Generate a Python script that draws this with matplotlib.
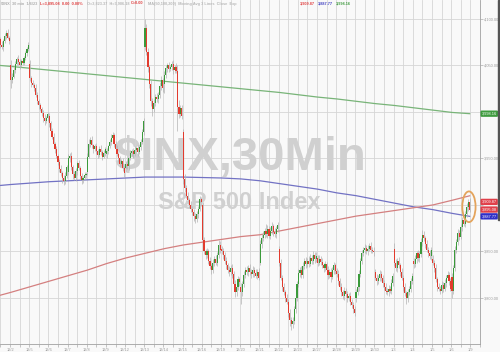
import numpy as np
import matplotlib.pyplot as plt
from matplotlib.patches import Ellipse, Rectangle

# --- data: S&P 500, 30 min bars, 12/1/2022 - 1/6/2023 ---
sessions = ['12/1', '12/2', '12/5', '12/6', '12/7', '12/8', '12/9', '12/12', '12/13',
            '12/14', '12/15', '12/16', '12/19', '12/20', '12/21', '12/22', '12/23',
            '12/27', '12/28', '12/29', '12/30', '1/3', '1/4', '1/5', '1/6']
# axis labels sit on the boundary before the next session
tick_labels = sessions[1:] + ['1/9']
first_bar = 6  # first visible bar of 12/1

day_open = [4078, 4050, 4052, 3996, 3935, 3935, 3955, 3940, 4070, 4030, 3978, 3900, 3853,
            3812, 3838, 3853, 3815, 3843, 3829, 3800, 3828, 3853, 3840, 3842, 3823]

closes = [
    [4072, 4070, 4076, 4082, 4085, 4080, 4076],
    [4034, 4038, 4045, 4052, 4057, 4054, 4050, 4055, 4053, 4058, 4063, 4068, 4072],
    [4036, 4031, 4029, 4026, 4018, 4012, 4007, 4003, 3999, 3994, 3990, 3993, 3998],
    [3988, 3980, 3973, 3966, 3960, 3953, 3946, 3939, 3934, 3929, 3926, 3931, 3941],
    [3950, 3953, 3941, 3933, 3929, 3936, 3945, 3940, 3931, 3927, 3929, 3932, 3933],
    [3952, 3966, 3970, 3964, 3960, 3963, 3958, 3954, 3960, 3957, 3952, 3956, 3960],
    [3958, 3963, 3968, 3972, 3975, 3966, 3960, 3955, 3950, 3944, 3947, 3940, 3934],
    [3944, 3942, 3950, 3956, 3958, 3955, 3959, 3961, 3957, 3962, 3968, 3978, 3990],
    [4090, 4065, 4048, 4030, 4012, 4003, 4010, 4016, 4014, 4018, 4028, 4034, 4026],
    [4040, 4047, 4050, 4046, 4048, 4052, 4045, 4048, 4044, 4005, 3998, 4004, 3996],
    [3928, 3918, 3910, 3905, 3900, 3896, 3892, 3888, 3885, 3890, 3896, 3906, 3903],
    [3862, 3850, 3846, 3850, 3840, 3834, 3830, 3838, 3842, 3838, 3846, 3857, 3852],
    [3850, 3846, 3840, 3835, 3830, 3828, 3832, 3826, 3815, 3806, 3812, 3820, 3817],
    [3806, 3815, 3825, 3830, 3828, 3832, 3828, 3826, 3830, 3827, 3824, 3828, 3822],
    [3858, 3864, 3868, 3872, 3869, 3874, 3867, 3872, 3877, 3871, 3869, 3874, 3878],
    [3838, 3822, 3812, 3806, 3800, 3796, 3784, 3776, 3772, 3775, 3788, 3800, 3815],
    [3827, 3830, 3825, 3834, 3840, 3836, 3840, 3837, 3843, 3840, 3846, 3842, 3845],
    [3838, 3842, 3839, 3835, 3832, 3836, 3830, 3825, 3828, 3823, 3830, 3835, 3829],
    [3826, 3818, 3812, 3806, 3802, 3808, 3804, 3800, 3802, 3796, 3792, 3788, 3784],
    [3806, 3812, 3826, 3840, 3848, 3852, 3854, 3850, 3853, 3856, 3852, 3851, 3849],
    [3822, 3818, 3822, 3826, 3821, 3816, 3812, 3808, 3806, 3810, 3808, 3816, 3824],
    [3838, 3832, 3840, 3835, 3828, 3822, 3812, 3805, 3800, 3806, 3810, 3818, 3824],
    [3836, 3842, 3848, 3843, 3847, 3860, 3868, 3864, 3858, 3852, 3848, 3845, 3852],
    [3838, 3832, 3820, 3812, 3810, 3808, 3814, 3810, 3816, 3822, 3825, 3818, 3810],
    [3808, 3832, 3852, 3860, 3870, 3866, 3876, 3884, 3880, 3890, 3898, 3903, 3895.08],
]

# wick length above / below the candle body (index points)
wick_up = [
    [3, 4, 2, 3, 3, 4, 2],
    [6, 4, 3, 3, 2, 4, 3, 2, 3, 2, 3, 2, 3],
    [4, 3, 3, 2, 4, 3, 2, 3, 2, 3, 4, 3, 2],
    [3, 2, 3, 4, 2, 3, 2, 3, 4, 2, 3, 4, 2],
    [5, 3, 4, 2, 3, 4, 2, 3, 2, 3, 2, 3, 2],
    [4, 5, 3, 4, 2, 3, 4, 2, 3, 4, 2, 3, 2],
    [3, 2, 3, 4, 3, 2, 3, 4, 2, 3, 2, 3, 2],
    [3, 4, 2, 3, 2, 3, 4, 2, 3, 2, 3, 4, 3],
    [10, 5, 4, 3, 4, 3, 4, 3, 4, 3, 4, 5, 3],
    [4, 3, 3, 4, 3, 3, 4, 3, 5, 6, 8, 4, 3],
    [4, 5, 3, 4, 3, 4, 3, 4, 3, 4, 3, 4, 3],
    [3, 4, 3, 4, 3, 4, 3, 4, 3, 4, 3, 5, 4],
    [3, 4, 3, 4, 3, 4, 3, 4, 3, 4, 3, 4, 3],
    [4, 3, 4, 3, 4, 3, 4, 3, 4, 3, 4, 3, 4],
    [4, 5, 4, 3, 8, 4, 3, 4, 5, 3, 4, 3, 4],
    [3, 4, 3, 4, 3, 4, 3, 4, 3, 4, 3, 4, 3],
    [4, 3, 4, 5, 3, 4, 3, 5, 4, 3, 4, 3, 4],
    [3, 4, 3, 4, 3, 4, 3, 4, 3, 4, 3, 4, 3],
    [3, 4, 3, 4, 3, 4, 3, 4, 3, 4, 3, 4, 3],
    [4, 3, 4, 3, 4, 3, 4, 3, 4, 3, 4, 3, 4],
    [3, 4, 3, 4, 3, 4, 3, 4, 3, 4, 3, 4, 3],
    [6, 4, 3, 4, 3, 4, 3, 4, 3, 4, 3, 4, 3],
    [3, 4, 3, 4, 3, 4, 5, 4, 3, 4, 3, 4, 3],
    [4, 3, 4, 3, 4, 3, 4, 3, 4, 3, 4, 3, 4],
    [4, 3, 4, 3, 4, 3, 4, 3, 4, 3, 4, 3, 4],
]
wick_dn = [
    [3, 2, 4, 2, 3, 2, 3],
    [8, 3, 2, 3, 2, 3, 4, 2, 3, 2, 2, 3, 2],
    [3, 4, 2, 3, 2, 3, 4, 2, 3, 5, 4, 2, 3],
    [4, 3, 2, 3, 4, 2, 3, 4, 3, 5, 4, 3, 2],
    [3, 4, 3, 5, 2, 3, 4, 2, 3, 4, 3, 2, 3],
    [3, 2, 4, 3, 4, 2, 3, 4, 2, 3, 4, 2, 3],
    [4, 3, 2, 3, 2, 4, 3, 2, 4, 3, 2, 3, 4],
    [5, 3, 4, 2, 3, 4, 2, 3, 4, 2, 3, 2, 3],
    [3, 4, 5, 4, 6, 7, 3, 4, 3, 4, 3, 4, 5],
    [10, 3, 4, 3, 2, 3, 4, 3, 2, 25, 4, 3, 4],
    [5, 4, 3, 4, 3, 4, 3, 5, 4, 3, 4, 3, 4],
    [4, 3, 4, 3, 4, 3, 4, 3, 4, 3, 4, 3, 4],
    [3, 4, 3, 4, 3, 4, 3, 4, 3, 5, 4, 3, 4],
    [12, 4, 3, 4, 3, 4, 3, 4, 3, 4, 3, 4, 3],
    [3, 4, 3, 4, 3, 4, 3, 4, 3, 4, 3, 4, 3],
    [4, 3, 4, 3, 4, 3, 5, 6, 6, 4, 3, 4, 3],
    [3, 4, 3, 4, 3, 4, 3, 4, 3, 4, 3, 4, 3],
    [4, 3, 4, 3, 4, 3, 4, 5, 4, 6, 3, 4, 3],
    [3, 4, 3, 4, 3, 4, 3, 4, 3, 4, 3, 4, 3],
    [4, 3, 4, 3, 4, 3, 4, 3, 4, 3, 4, 3, 4],
    [3, 4, 3, 4, 3, 4, 3, 4, 3, 4, 3, 4, 3],
    [4, 3, 4, 3, 4, 3, 4, 3, 6, 4, 3, 4, 3],
    [4, 3, 4, 3, 4, 3, 4, 3, 4, 3, 4, 3, 4],
    [3, 4, 3, 4, 3, 4, 3, 4, 3, 4, 3, 4, 3],
    [8, 4, 3, 4, 3, 4, 3, 4, 3, 4, 3, 4, 3],
]

# moving averages at the first bar of each session + last bar
ma50 = [3803, 3806, 3812, 3818, 3824, 3830, 3837, 3843, 3848, 3853, 3857, 3860, 3863,
        3866, 3868, 3872, 3876, 3880, 3884, 3888, 3891, 3894, 3897, 3900, 3905, 3909.87]
ma100 = [3921, 3922, 3923.5, 3925, 3926, 3927, 3928, 3929, 3930, 3930, 3930, 3929.5, 3929,
         3928, 3926, 3923, 3920, 3917, 3913, 3910, 3906, 3902, 3898, 3895, 3891, 3887.77]
ma200 = [4050, 4049, 4047, 4045, 4043, 4041, 4039, 4037, 4035, 4033, 4031, 4029, 4027,
         4025, 4023, 4021, 4018.5, 4016, 4014, 4011.5, 4009, 4007, 4004.5, 4002, 3999.5, 3998.16]

y_ticks = [3800, 3850, 3900, 3950, 4000, 4050, 4100]
hidden_ticks = [3900, 4000]  # covered by the value tags on the right
BARS = 13

# --- build bars ---
idx, opens, highs, lows, cls = [], [], [], [], []
for d, day in enumerate(closes):
    start = first_bar if d == 0 else 0
    prev = day_open[d]
    for j, c in enumerate(day):
        o = prev
        idx.append(d * BARS + start + j)
        opens.append(o)
        cls.append(c)
        highs.append(max(o, c) + wick_up[d][j])
        lows.append(min(o, c) - wick_dn[d][j])
        prev = c
idx = np.array(idx)
opens = np.array(opens, dtype=float)
cls = np.array(cls, dtype=float)

ma_x = [d * BARS + (first_bar if d == 0 else 0) for d in range(len(sessions))] + [idx[-1]]

# --- figure ---
bg = '#f9f9f9'
fig = plt.figure(figsize=(5, 3.52), dpi=100, facecolor=bg)
ax = fig.add_axes([0, 8 / 352, 480 / 500, 344 / 352], facecolor=bg)
ax.set_xlim(5.73, 330.7)
ax.set_ylim(3750.5, 4120.4)

# grid
ax.set_yticks(y_ticks)
ax.set_yticklabels(['' if v in hidden_ticks else f'{v:,.2f}' for v in y_ticks])
ax.set_xticks([BARS * (i + 1) - 0.5 for i in range(len(tick_labels))])
ax.set_xticklabels(tick_labels)
ax.set_xticks([BARS * i + 6 for i in range(len(sessions) + 1)], minor=True)
ax.grid(True, which='both', color='#d6d6d6', lw=0.6)
ax.set_axisbelow(True)
ax.yaxis.tick_right()
ax.tick_params(axis='y', labelsize=2.8, colors='#9a9a9a', length=2, width=0.4, pad=1)
ax.tick_params(axis='x', which='both', labelsize=2.8, colors='#9a9a9a', length=2,
               width=0.4, pad=1)
for lab in ax.get_xticklabels() + ax.get_yticklabels():
    lab.set_family('Liberation Sans')
for s in ['top', 'left']:
    ax.spines[s].set_visible(False)
for s in ['right', 'bottom']:
    ax.spines[s].set_color('#a0a0a0')
    ax.spines[s].set_linewidth(0.6)

# watermark
ax.text(0.5, 0.541, '$INX,30Min', transform=ax.transAxes, ha='center', va='center',
        fontsize=34, fontweight='bold', family='Liberation Sans', color='#d0d0d0', zorder=1)
ax.text(0.498, 0.41, 'S&P 500 Index', transform=ax.transAxes, ha='center', va='center',
        fontsize=17, fontweight='bold', family='Liberation Sans', color='#d0d0d0', zorder=1)

# moving averages
ax.plot(ma_x, ma200, color='#78b478', lw=0.9, zorder=2)
ax.plot(ma_x, ma100, color='#7272c4', lw=0.9, zorder=2)
ax.plot(ma_x, ma50, color='#d48080', lw=0.9, zorder=2)

# candles
up = cls >= opens
colors = np.where(up, '#3a9a3a', '#e23b2e')
ax.vlines(idx, lows, highs, colors='#b4b4b4', lw=0.5, zorder=3)
ax.bar(idx, cls - opens, bottom=opens, width=0.75, color=colors, linewidth=0, zorder=4)

# highlight ring around the last bars
ax.add_patch(Ellipse((idx[-1] - 0.5, cls[-1] + 3), 9, 33, fill=False,
                     ec='#e4a45c', lw=1.3, zorder=5))

# right-side value tags
def tag(value, fc, dy=0):
    ax.annotate(f'{value:,.2f}', xy=(1, value), xycoords=('axes fraction', 'data'),
                xytext=(1.2, dy), textcoords='offset points', ha='left', va='center',
                fontsize=2.8, family='Liberation Sans', color='white',
                bbox=dict(boxstyle='round,pad=0.3', fc=fc, ec='none'),
                annotation_clip=False, zorder=6)

tag(ma200[-1], '#3f9b3f')
tag(ma50[-1], '#e0404a', dy=-4.4)
tag(cls[-1], '#e0404a')
tag(ma100[-1], '#2f2fc8')

# header line
hy = 1 - 3.5 / 352
head = [(1, '$INX  30 min  1/6/23', '#b0b0b0'),
        (40, 'L=3,895.08  0.00  0.00%', '#e04040'),
        (87, 'O=3,823.37  H=3,906.18', '#b8b8b8'),
        (131, 'C=0.00', '#e04040'),
        (148, 'MA(50,100,200)  Moving Avg 3 Lines  Close  Exp', '#b8b8b8'),
        (300, f'{ma50[-1]:,.2f}', '#e04040'),
        (318, f'{ma100[-1]:,.2f}', '#4040c0'),
        (336, f'{ma200[-1]:,.2f}', '#3f9b3f')]
for x, t, col in head:
    fig.text(x / 500, hy, t, fontsize=2.8, family='Liberation Sans', color=col,
             ha='left', va='center', fontweight='bold')

# scrollbar strip at right edge
fig.patches.append(Rectangle((498 / 500, 1 - 220 / 352), 2 / 500, 220 / 352,
                             transform=fig.transFigure, color='#555555'))

fig.savefig('out.png', dpi=100, facecolor=bg)
